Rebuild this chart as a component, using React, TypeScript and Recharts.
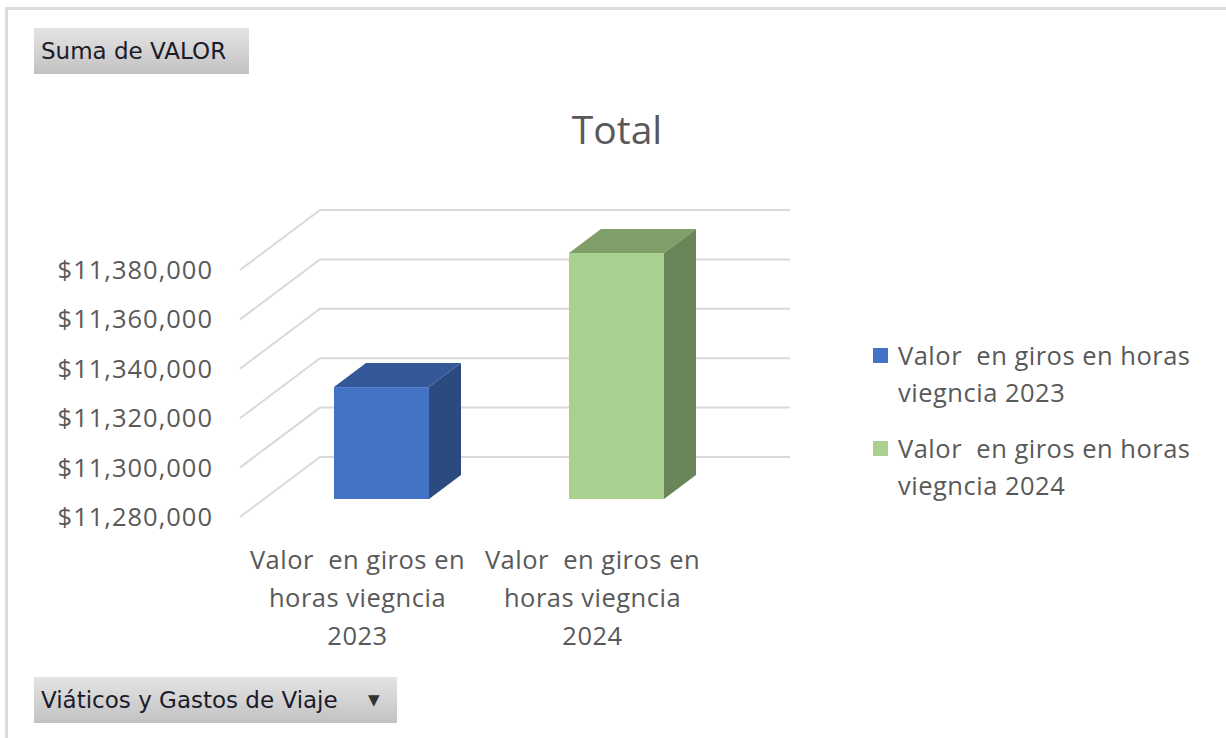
import React from "react";
import { Bar, BarChart, CartesianGrid, Legend, XAxis, YAxis } from "recharts";

const categories = [
  "Valor  en giros en horas viegncia 2023",
  "Valor  en giros en horas viegncia 2024",
];
const values = [11325300, 11379600];
const tickLines = [
  ["Valor  en giros en", "horas viegncia", "2023"],
  ["Valor  en giros en", "horas viegncia", "2024"],
];
const legendLines = [
  ["Valor  en giros en horas", "viegncia 2023"],
  ["Valor  en giros en horas", "viegncia 2024"],
];
const yTicks = [11280000, 11300000, 11320000, 11340000, 11360000, 11380000];

const data = categories.map((name, i) => ({ name, valor: values[i] }));

const FONT = "'Open Sans', Lato, sans-serif";
const TEXT = "#595959";
const GRID = "#d9d9d9";

// depth of the 3d box
const DX = 80;
const DY = 60;
const BAR_SHIFT = 0.3;
const BAR_DEPTH = 0.4;

const faces = [
  { front: "#4472c4", top: "#34589a", side: "#2b4a80" },
  { front: "#a9d08e", top: "#7f9e6a", side: "#6a8658" },
];

function Box3D(props: any) {
  const { x, y, width, height, index } = props;
  const c = faces[index % faces.length];
  const fx = x + DX * BAR_SHIFT;
  const fy = y - DY * BAR_SHIFT;
  const bx = DX * BAR_DEPTH;
  const by = DY * BAR_DEPTH;
  return (
    <g>
      <rect x={fx} y={fy} width={width} height={height} fill={c.front} />
      <polygon
        points={`${fx},${fy} ${fx + bx},${fy - by} ${fx + width + bx},${fy - by} ${fx + width},${fy}`}
        fill={c.top}
      />
      <polygon
        points={`${fx + width},${fy} ${fx + width + bx},${fy - by} ${fx + width + bx},${fy + height - by} ${fx + width},${fy + height}`}
        fill={c.side}
      />
    </g>
  );
}

function GridLine(props: any) {
  const { x1, y1, x2 } = props;
  return (
    <polyline
      key={props.key}
      points={`${x1},${y1} ${x1 + DX},${y1 - DY} ${x2 + DX},${y1 - DY}`}
      fill="none"
      stroke={GRID}
      strokeWidth={2}
    />
  );
}

function CategoryTick(props: any) {
  const { x, y, index } = props;
  const lines = tickLines[index] || [];
  return (
    <g>
      {lines.map((l, i) => (
        <text
          key={i}
          x={x}
          y={y + 44 + i * 38}
          textAnchor="middle"
          fill={TEXT}
          fontSize={25.5}
          fontFamily={FONT}
          style={{ whiteSpace: "pre", letterSpacing: "0.5px" }}
        >
          {l}
        </text>
      ))}
    </g>
  );
}

function LegendBox() {
  return (
    <div style={{ fontFamily: FONT, fontSize: 25.5, color: TEXT, letterSpacing: "0.5px" }}>
      {legendLines.map((lines, i) => (
        <div key={i} style={{ position: "relative", paddingLeft: 25, marginBottom: 19 }}>
          <span
            style={{
              position: "absolute",
              left: 0,
              top: 11,
              width: 15,
              height: 15,
              background: faces[i].front,
            }}
          />
          {lines.map((l, j) => (
            <div key={j} style={{ lineHeight: "37px", whiteSpace: "pre" }}>
              {l}
            </div>
          ))}
        </div>
      ))}
    </div>
  );
}

const buttonStyle: React.CSSProperties = {
  position: "absolute",
  left: 34,
  height: 46,
  boxSizing: "border-box",
  background: "linear-gradient(#e4e4e4, #c2c2c2)",
  fontFamily: "'DejaVu Sans', sans-serif",
  fontSize: 23,
  color: "#1b1b2a",
  lineHeight: "46px",
  paddingLeft: 7,
  whiteSpace: "nowrap",
};

export default function App() {
  return (
    <div
      style={{
        position: "absolute",
        left: 0,
        top: 0,
        width: 1226,
        height: 738,
        background: "#fff",
        overflow: "hidden",
      }}
    >
      <div
        style={{
          position: "absolute",
          left: 5,
          top: 7,
          right: 0,
          bottom: 0,
          borderTop: "3px solid #dcdcdc",
          borderLeft: "3px solid #dcdcdc",
        }}
      />
      <div style={{ ...buttonStyle, top: 28, width: 215 }}>Suma de VALOR</div>
      <div style={{ ...buttonStyle, top: 677, width: 363 }}>
        Viáticos y Gastos de Viaje
        <span style={{ position: "absolute", left: 334, top: 0, fontSize: 15, color: "#333" }}>▼</span>
      </div>
      <div
        style={{
          position: "absolute",
          left: 417,
          width: 400,
          top: 104,
          textAlign: "center",
          fontFamily: FONT,
          fontSize: 39,
          color: TEXT,
          lineHeight: "50px",
        }}
      >
        Total
      </div>
      <div style={{ position: "absolute", left: 0, top: 0 }}>
        <BarChart
          width={1226}
          height={738}
          data={data}
          margin={{ top: 270, right: 516, bottom: 81, left: 40 }}
          barSize={95}
        >
          <CartesianGrid vertical={false} horizontal={GridLine} />
          <XAxis
            dataKey="name"
            axisLine={false}
            tickLine={false}
            height={140}
            tick={CategoryTick}
            interval={0}
          />
          <YAxis
            domain={[11280000, 11380000]}
            ticks={yTicks}
            width={200}
            axisLine={false}
            tickLine={false}
            tickMargin={21}
            tick={{ fill: TEXT, fontSize: 25.5, fontFamily: FONT, style: { letterSpacing: "1px" } }}
            tickFormatter={(v: number) => "$" + v.toLocaleString("en-US")}
          />
          <Legend
            layout="vertical"
            align="center"
            verticalAlign="middle"
            content={() => <LegendBox />}
            wrapperStyle={{ left: 873, top: 337, width: 350 }}
          />
          <Bar dataKey="valor" shape={Box3D} isAnimationActive={false} />
        </BarChart>
      </div>
    </div>
  );
}
